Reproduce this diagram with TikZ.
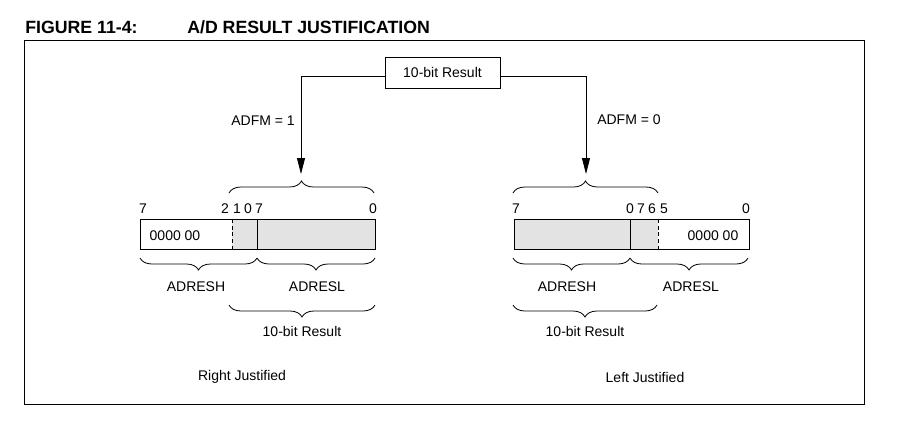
\documentclass[tikz,border=0pt]{standalone}
\usepackage{fontspec}
\setmainfont{Liberation Sans}
\usetikzlibrary{arrows.meta,positioning,decorations.pathreplacing}
\definecolor{regfill}{HTML}{E3E3E3}
\tikzset{
  txt/.style={font=\fontsize{10.5}{12}\selectfont, inner sep=0pt},
  ttl/.style={font=\fontsize{13.3}{15}\selectfont\bfseries, inner sep=0pt, anchor=base west},
  resbox/.style={draw, line width=0.6pt, minimum width=86.25pt, minimum height=23.25pt, inner sep=0pt, font=\fontsize{10.5}{12}\selectfont},
  arr/.style={-{Triangle[length=12pt,width=6pt]}, line width=0.6pt},
  brc/.style={decorate, decoration={brace, amplitude=9pt}, line width=0.6pt},
  reg/.style={draw, line width=0.6pt},
  cut/.style={line width=0.6pt, dash pattern=on 3pt off 2pt},
}
\begin{document}
\begin{tikzpicture}[x=0.75pt, y=-0.75pt]
  \useasboundingbox (0,0) rectangle (914,444);
  \node[ttl] (fignum) at (25,33) {FIGURE 11-4:};
  \node[ttl] (figttl) at (187,33) {A/D RESULT JUSTIFICATION};
  \draw[line width=0.6pt] (24,40) rectangle (864,404);

  % source value and the two paths
  \node[resbox] (top) at (442.5,72.5) {10-bit Result};
  \coordinate (ltip) at (301,174);
  \coordinate (rtip) at (586,174);
  \draw[arr] ([yshift=-2.6pt]top.west) -| (ltip);
  \draw[arr] ([yshift=-2.6pt]top.east) -| (rtip);
  \node[txt, anchor=east] (adfm1) at (295,121) {ADFM = 1};
  \node[txt, anchor=west] (adfm0) at (597,120) {ADFM = 0};

  % right justified
  \fill[regfill] (232,219) rectangle (375,249);
  \draw[reg] (140,219) rectangle (375,249);
  \draw[cut] (232,219) -- (232,249);
  \draw[line width=0.6pt] (257,219) -- (257,249);
  \foreach \x/\t [count=\i] in {143/7,225/2,237/1,248/0,259/7,373/0}
    \node[txt] (lbit\i) at (\x,209) {\t};
  \node[txt] (lzero) at (175,236) {0000 00};
  \draw[brc] (229,193) -- (374,193);
  \draw[brc] (257,258) -- (140,258);
  \draw[brc] (375,258) -- (257,258);
  \draw[brc] (375,305) -- (229,305);
  \node[txt] (lhigh) at (196,287) {ADRESH};
  \node[txt] (llow) at (317,287) {ADRESL};
  \node[txt] (lres) at (302,331) {10-bit Result};
  \node[txt] (rjust) at (242,377) {Right Justified};

  % left justified
  \fill[regfill] (514,219) rectangle (658,249);
  \draw[reg] (514,219) rectangle (749,249);
  \draw[line width=0.6pt] (630,219) -- (630,249);
  \draw[cut] (658,219) -- (658,249);
  \foreach \x/\t [count=\i] in {516/7,630/0,641/7,652/6,664/5,746/0}
    \node[txt] (rbit\i) at (\x,209) {\t};
  \node[txt] (rzero) at (713,236) {0000 00};
  \draw[brc] (513,193) -- (658,193);
  \draw[brc] (630,258) -- (513,258);
  \draw[brc] (748,258) -- (630,258);
  \draw[brc] (657,305) -- (513,305);
  \node[txt] (rhigh) at (567,287) {ADRESH};
  \node[txt] (rlow) at (691,287) {ADRESL};
  \node[txt] (rres) at (585,331) {10-bit Result};
  \node[txt] (ljust) at (645,377) {Left Justified};
\end{tikzpicture}
\end{document}
